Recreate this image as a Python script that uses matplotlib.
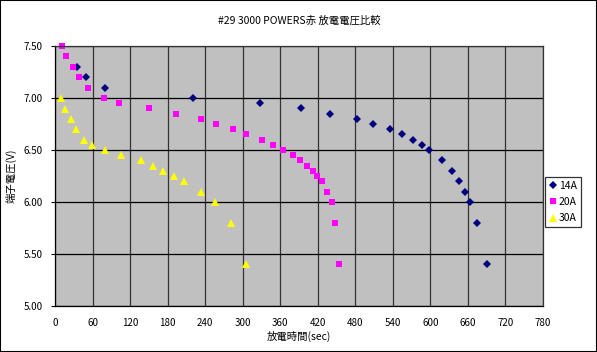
import numpy as np
import matplotlib
matplotlib.use('Agg')
import matplotlib.pyplot as plt
from matplotlib.patches import Rectangle

plt.rcParams['font.family'] = ['Noto Sans CJK JP', 'DejaVu Sans']

# 14A
t_14a = [35, 50, 80, 220, 327, 393, 440, 482, 509, 536, 555, 573, 586, 598,
         619, 634, 646, 656, 664, 675, 691]
v_14a = [7.30, 7.20, 7.10, 7.00, 6.95, 6.90, 6.85, 6.80, 6.75, 6.70, 6.65, 6.60,
         6.55, 6.50, 6.40, 6.30, 6.20, 6.10, 6.00, 5.80, 5.40]

# 20A
t_20a = [12, 18, 28, 39, 53, 79, 103, 151, 194, 234, 258, 285, 305, 331, 349,
         365, 381, 392, 403, 413, 419, 427, 435, 442, 448, 454]
v_20a = [7.50, 7.40, 7.30, 7.20, 7.10, 7.00, 6.95, 6.90, 6.85, 6.80, 6.75, 6.70,
         6.65, 6.60, 6.55, 6.50, 6.45, 6.40, 6.35, 6.30, 6.25, 6.20, 6.10, 6.00,
         5.80, 5.40]

# 30A
t_30a = [9, 16, 25, 34, 46, 59, 80, 105, 137, 156, 172, 190, 206, 233, 255, 282, 305]
v_30a = [7.00, 6.89, 6.80, 6.70, 6.60, 6.55, 6.50, 6.45, 6.40, 6.35, 6.30, 6.25,
         6.20, 6.10, 6.00, 5.80, 5.40]

x_ticks = np.arange(0, 781, 60)
y_ticks = np.arange(5.0, 7.51, 0.5)

fig = plt.figure(figsize=(5.97, 3.52), dpi=100)
fig.patches.append(Rectangle((0, 0), 1, 1, transform=fig.transFigure,
                             fill=False, edgecolor='black', linewidth=1.5))
ax = fig.add_axes([0.0921, 0.1307, 0.8174, 0.7386])
ax.set_facecolor('#C0C0C0')

ax.plot(t_14a, v_14a, linestyle='none', marker='D', markersize=4.2,
        color='#000080', markeredgewidth=0, label='14A', clip_on=False)
ax.plot(t_20a, v_20a, linestyle='none', marker='s', markersize=4.8,
        color='#FF00FF', markeredgewidth=0, label='20A', clip_on=False)
ax.plot(t_30a, v_30a, linestyle='none', marker='^', markersize=5.8,
        color='#FFFF00', markeredgewidth=0, label='30A', clip_on=False)

ax.set_xlim(0, 780)
ax.set_ylim(5.0, 7.5)
ax.set_xticks(x_ticks)
ax.set_yticks(y_ticks)
ax.set_yticklabels(['%.2f' % v for v in y_ticks])
ax.tick_params(axis='both', labelsize=7, length=3, width=0.8, pad=6)
ax.tick_params(axis='x', length=0, pad=9)
ax.grid(axis='y', color='black', linewidth=0.9)
ax.grid(axis='x', color='#333333', linewidth=0.9)
ax.set_axisbelow(True)
for s in ax.spines.values():
    s.set_color('#333333')
    s.set_linewidth(0.9)
ax.spines['left'].set_color('black')
ax.spines['bottom'].set_color('black')

ax.set_xlabel('放電時間(sec)', fontsize=7.5, labelpad=2)
ax.set_ylabel('端子電圧(V)', fontsize=7.5, labelpad=5)
ax.set_title('#29 3000 POWERS赤 放電電圧比較', fontsize=7.5, pad=16)

leg = ax.legend(loc='center left', bbox_to_anchor=(1.005, 0.40), fontsize=7.5,
                frameon=True, fancybox=False, edgecolor='black',
                handlelength=0.6, handletextpad=0.3, borderpad=0.4,
                labelspacing=0.6, borderaxespad=0)
leg.get_frame().set_linewidth(0.9)

fig.savefig('out.png', dpi=100)
